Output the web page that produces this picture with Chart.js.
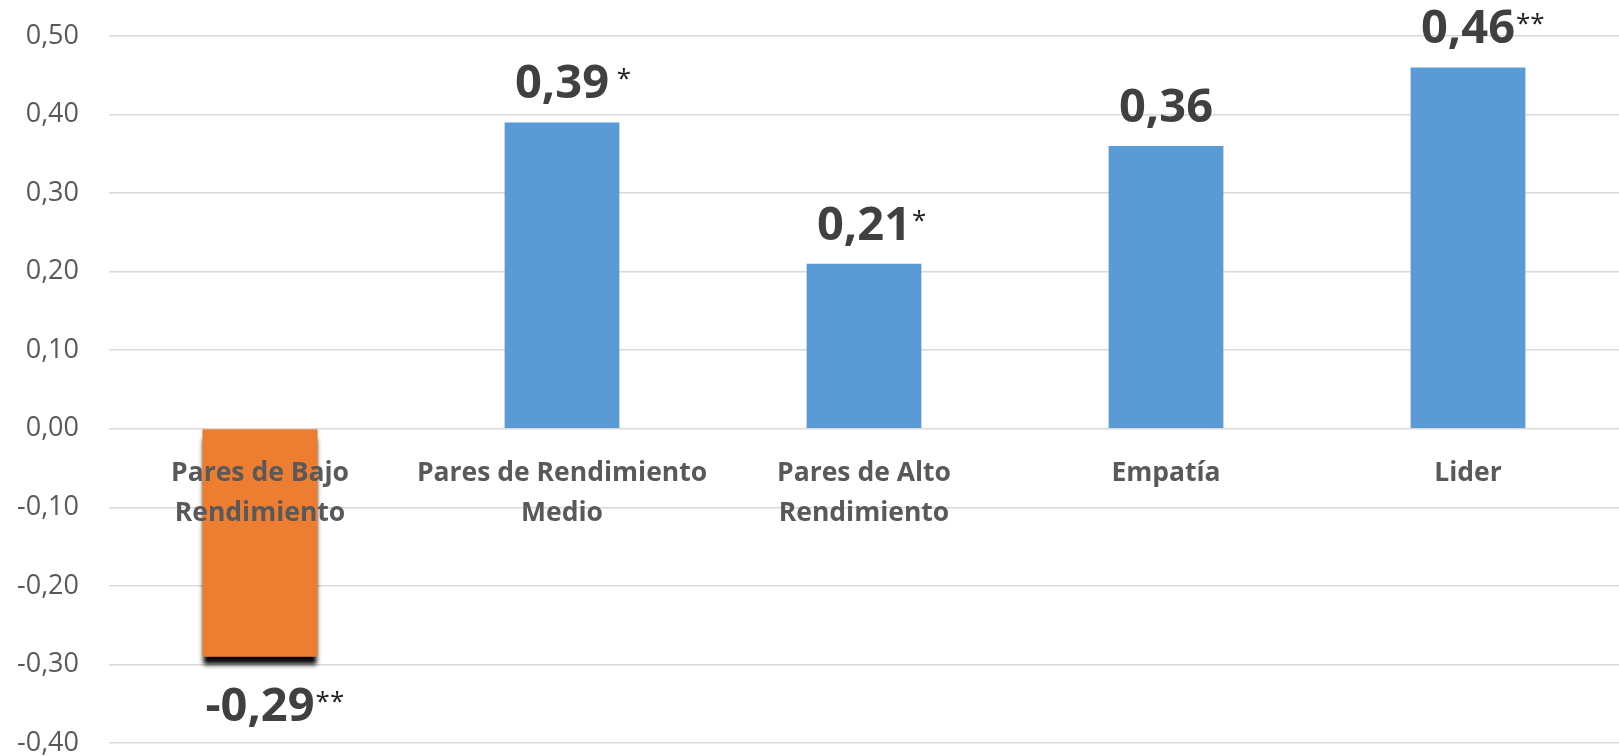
<!DOCTYPE html>
<html>
<head>
<meta charset="utf-8">
<title>Correlaciones</title>
<script src="https://cdn.jsdelivr.net/npm/chart.js@4/dist/chart.umd.min.js"></script>
<style>
  html, body { margin: 0; padding: 0; background: #fff; }
  #wrap { width: 1619px; height: 756px; }
</style>
</head>
<body>
<div id="wrap"><canvas id="chart"></canvas></div>
<script>
// categorias (multi-linea) y valores de cada barra
const categories = [
  ['Pares de Bajo', 'Rendimiento'],
  ['Pares de Rendimiento', 'Medio'],
  ['Pares de Alto', 'Rendimiento'],
  'Empatía',
  'Lider',
];
const values = [-0.29, 0.39, 0.21, 0.36, 0.46];
// significancia que va pegada a cada etiqueta
const stars = ['**', ' *', '*', '', '**'];
const yMin = -0.4;
const yMax = 0.5;
const yStep = 0.1;

const ORANGE = '#ED7D31';
const BLUE = '#5B9BD5';
const FONT = "'Open Sans', 'DejaVu Sans', sans-serif";

const fmt = (v) => {
  const s = (Math.abs(v) < 1e-9 ? 0 : v).toFixed(2);
  return s.replace('.', ',');
};

// sombra negra solo bajo la barra negativa
const barShadow = {
  id: 'barShadow',
  beforeDatasetsDraw(chart) {
    const { ctx } = chart;
    chart.getDatasetMeta(0).data.forEach((bar, i) => {
      if (values[i] >= 0) return;
      const { x, y, base, width } = bar.getProps(['x', 'y', 'base', 'width'], true);
      ctx.save();
      ctx.shadowColor = '#000';
      ctx.shadowBlur = 5;
      ctx.shadowOffsetY = 8;
      ctx.fillStyle = ORANGE;
      ctx.fillRect(x - width / 2, Math.min(y, base), width, Math.abs(y - base));
      ctx.restore();
    });
  },
};

// etiquetas de valor + asteriscos
const valueLabels = {
  id: 'valueLabels',
  afterDatasetsDraw(chart) {
    const { ctx } = chart;
    chart.getDatasetMeta(0).data.forEach((bar, i) => {
      const v = values[i];
      const txt = fmt(v);
      ctx.save();
      ctx.font = `bold 47px ${FONT}`;
      ctx.fillStyle = '#404040';
      ctx.textAlign = 'center';
      ctx.textBaseline = 'alphabetic';
      const baseline = v >= 0 ? bar.y - 24 : bar.y + 64;
      ctx.fillText(txt, bar.x, baseline);
      const w = ctx.measureText(txt).width;
      if (stars[i]) {
        ctx.font = `26px ${FONT}`;
        ctx.fillStyle = '#1f1f1f';
        ctx.textAlign = 'left';
        ctx.fillText(stars[i], bar.x + w / 2 + 1, baseline - 11);
      }
      ctx.restore();
    });
  },
};

new Chart(document.getElementById('chart'), {
  type: 'bar',
  data: {
    labels: categories,
    datasets: [{
      data: values,
      backgroundColor: values.map((v) => (v < 0 ? ORANGE : BLUE)),
      barPercentage: 0.76,
      categoryPercentage: 0.5,
    }],
  },
  options: {
    responsive: true,
    maintainAspectRatio: false,
    animation: false,
    layout: { padding: { top: 36, right: -3, bottom: 13, left: 0 } },
    plugins: {
      legend: { display: false },
      tooltip: { enabled: false },
    },
    scales: {
      x: {
        position: { y: 0 },
        grid: { display: false },
        border: { display: false },
        ticks: {
          z: 1, // nombres por encima de la barra naranja
          autoSkip: false,
          maxRotation: 0,
          minRotation: 0,
          padding: 17,
          color: '#595959',
          font: { family: FONT, size: 26.5, weight: 'bold', lineHeight: 1.5 },
        },
      },
      y: {
        min: yMin,
        max: yMax,
        afterFit(scale) {
          scale.width = 109;
          scale.paddingTop = 0;
          scale.paddingBottom = 0;
        },
        grid: { color: '#d9d9d9', lineWidth: 1.5, drawTicks: false },
        border: { display: false },
        ticks: {
          stepSize: yStep,
          padding: 30,
          color: '#595959',
          font: { family: FONT, size: 27, lineHeight: 1 },
          callback: (v) => fmt(v),
        },
      },
    },
  },
  plugins: [barShadow, valueLabels],
});
</script>
</body>
</html>
